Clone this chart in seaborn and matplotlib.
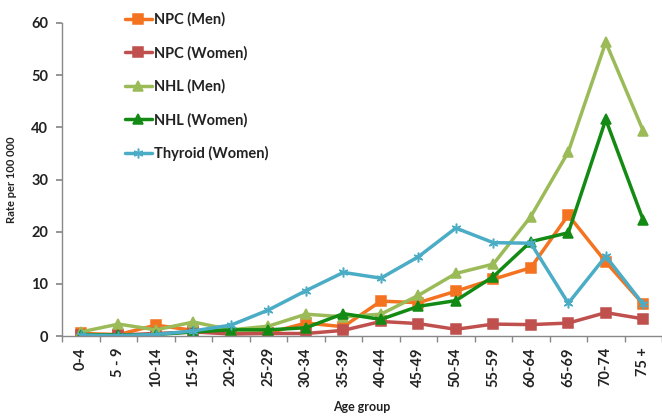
import pandas as pd
import matplotlib.pyplot as plt
import seaborn as sns

AGE_GROUPS = ['0-4', '5 - 9', '10-14', '15-19', '20-24', '25-29', '30-34', '35-39',
              '40-44', '45-49', '50-54', '55-59', '60-64', '65-69', '70-74', '75 +']

NPC_MEN = [0.5, 0.3, 2.1, 1.1, 0.5, 0.6, 2.5, 1.8, 6.7, 6.4, 8.6, 10.9, 13.1, 23.2, 14.2, 6.1]
NPC_WOMEN = [0.3, 0.2, 0.5, 0.8, 0.4, 0.5, 0.5, 1.1, 2.8, 2.4, 1.3, 2.3, 2.2, 2.5, 4.5, 3.3]
NHL_MEN = [0.8, 2.3, 1.2, 2.7, 1.2, 1.9, 4.2, 3.7, 4.2, 7.8, 12.0, 13.8, 22.9, 35.3, 56.3, 39.3]
NHL_WOMEN = [0.3, 0.2, 0.3, 0.8, 1.2, 1.2, 1.6, 4.3, 3.2, 5.7, 6.8, 11.4, 18.1, 19.8, 41.5, 22.2]
THYROID_WOMEN = [0.2, 0.1, 0.3, 1.0, 2.1, 5.0, 8.7, 12.2, 11.1, 15.2, 20.7, 17.9, 17.8, 6.3, 15.3, 6.1]

SERIES = [
    ('NPC (Men)', NPC_MEN, '#F47320', 's'),
    ('NPC (Women)', NPC_WOMEN, '#C0504D', 's'),
    ('NHL (Men)', NHL_MEN, '#9BBB59', '^'),
    ('NHL (Women)', NHL_WOMEN, '#138A13', '^'),
    ('Thyroid (Women)', THYROID_WOMEN, '#4BACC6', (6, 2, 0)),
]

sns.set_theme(style="white")
plt.rcParams['font.family'] = ['Lato', 'DejaVu Sans']

fig = plt.figure(figsize=(6.62, 4.17), dpi=100)
ax = fig.add_axes([0.094, 0.194, 0.906, 0.751])

for name, values, color, marker in SERIES:
    df = pd.DataFrame({'age': AGE_GROUPS, 'rate': values})
    sns.lineplot(data=df, x='age', y='rate', ax=ax, color=color, marker=marker,
                 markersize=7 if marker != '^' else 7.5, markeredgecolor=color,
                 markeredgewidth=1.1, linewidth=2.5, label=name, sort=False)

ax.set_xlim(-0.5, len(AGE_GROUPS) - 0.5)
ax.set_ylim(0, 60)
ax.set_yticks(range(0, 61, 10))
ax.set_xticks(range(len(AGE_GROUPS)))
ax.set_xticklabels(AGE_GROUPS, rotation=90, fontsize=10.5, fontweight='bold', color='#222222')
ax.tick_params(axis='x', length=0, pad=8)
ax.set_xticks([i - 0.5 for i in range(len(AGE_GROUPS) + 1)], minor=True)
ax.tick_params(axis='x', which='minor', length=4, color='#888888', direction='out', bottom=True)
ax.tick_params(axis='y', length=4, color='#888888', direction='out', left=True,
               labelsize=10.5, pad=6)
for lbl in ax.get_yticklabels():
    lbl.set_fontweight('bold')
    lbl.set_color('#222222')

ax.set_xlabel('Age group', fontsize=9, fontweight='bold', labelpad=10, color='#222222')
ax.set_ylabel('Rate per 100 000', fontsize=8, fontweight='bold', labelpad=10, color='#222222')

sns.despine(ax=ax)
for side in ['left', 'bottom']:
    ax.spines[side].set_color('#888888')
    ax.spines[side].set_linewidth(1.0)

leg = ax.legend(loc='upper left', bbox_to_anchor=(0.082, 1.075), frameon=False,
                labelspacing=1.3, handlelength=1.9, handletextpad=0.1,
                prop={'weight': 'bold', 'size': 10.5})
for t in leg.get_texts():
    t.set_color('#222222')

fig.savefig('out.png', dpi=100)
